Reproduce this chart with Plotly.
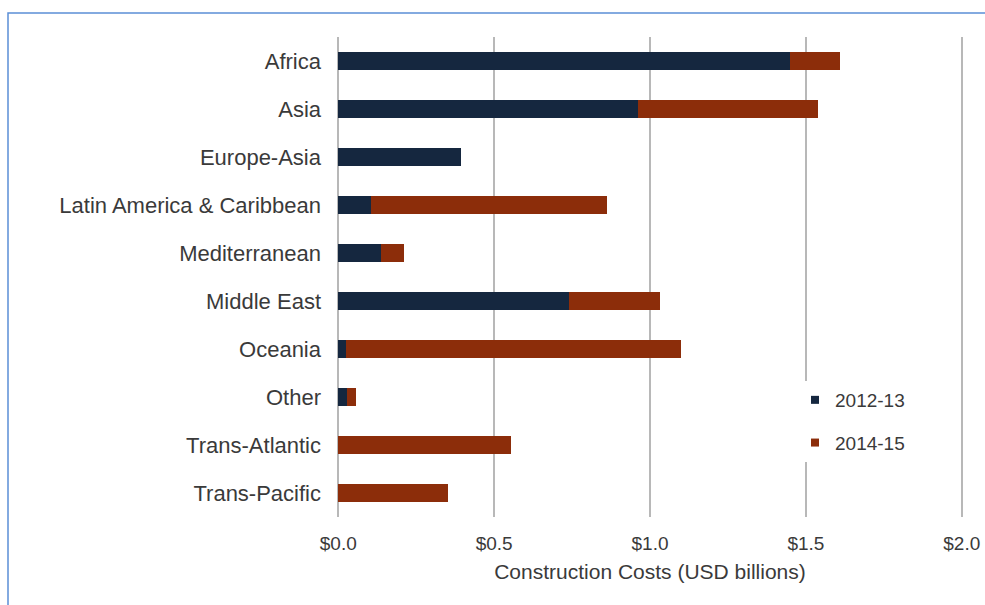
import plotly.graph_objects as go

# Regions and construction costs (USD billions) by period
regions = ["Africa", "Asia", "Europe-Asia", "Latin America & Caribbean", "Mediterranean",
           "Middle East", "Oceania", "Other", "Trans-Atlantic", "Trans-Pacific"]
costs_2012_13 = [1.45, 0.96, 0.395, 0.105, 0.137, 0.74, 0.026, 0.029, 0.0, 0.0]
costs_2014_15 = [0.16, 0.58, 0.0, 0.758, 0.073, 0.292, 1.072, 0.029, 0.553, 0.352]
periods = ["2012-13", "2014-15"]
x_ticks = [0.0, 0.5, 1.0, 1.5, 2.0]
x_tick_labels = ["$0.0", "$0.5", "$1.0", "$1.5", "$2.0"]

NAVY = "#15273f"
RUST = "#8c2d0a"
TEXT = "#3a3a3a"
FONT = "Liberation Sans, Arial, sans-serif"

fig = go.Figure()
for name, vals, col in zip(periods, [costs_2012_13, costs_2014_15], [NAVY, RUST]):
    fig.add_trace(go.Bar(y=regions, x=vals, name=name, orientation="h",
                         marker=dict(color=col, line=dict(width=0)), showlegend=False))
    # small square legend key for each period
    fig.add_trace(go.Scatter(x=[None], y=[None], mode="markers", name=name,
                             marker=dict(symbol="square", size=8, color=col),
                             legendgroup=name, showlegend=True))

W, H = 985, 605
L, R, T, B = 337, 22, 37, 88
pw, ph = W - L - R, H - T - B


def px_x(p):
    return (p - L) / pw


def px_y(p):
    return (H - B - p) / ph


fig.update_layout(
    width=W, height=H,
    margin=dict(l=L, r=R, t=T, b=B, autoexpand=False),
    barmode="stack",
    bargap=0.62,
    paper_bgcolor="white",
    plot_bgcolor="white",
    font=dict(family=FONT, size=19, color=TEXT),
    xaxis=dict(range=[-0.004, 2.004], tickvals=x_ticks, ticktext=x_tick_labels,
               showgrid=True, gridcolor="#b8b8b8", gridwidth=2, zeroline=False,
               showline=False, ticks="", fixedrange=True, ticklabelstandoff=13,
               automargin=False,
               tickfont=dict(family=FONT, size=19, color=TEXT),
               title=dict(text="Construction Costs (USD billions)", standoff=11,
                          font=dict(family=FONT, size=21, color=TEXT))),
    yaxis=dict(autorange="reversed", showgrid=False, zeroline=False, showline=False,
               ticks="", ticklabelstandoff=15, fixedrange=True, automargin=False,
               tickfont=dict(family=FONT, size=22, color=TEXT)),
    legend=dict(x=px_x(795), y=px_y(381), xanchor="left", yanchor="top",
                traceorder="grouped", tracegroupgap=15, bgcolor="white",
                font=dict(family=FONT, size=19, color=TEXT)),
    shapes=[dict(type="rect", xref="paper", yref="paper",
                 x0=px_x(8), x1=px_x(1000), y0=px_y(620), y1=px_y(13),
                 line=dict(color="#5b8fd6", width=1.5), layer="above")],
)

fig.write_html("out.html")
